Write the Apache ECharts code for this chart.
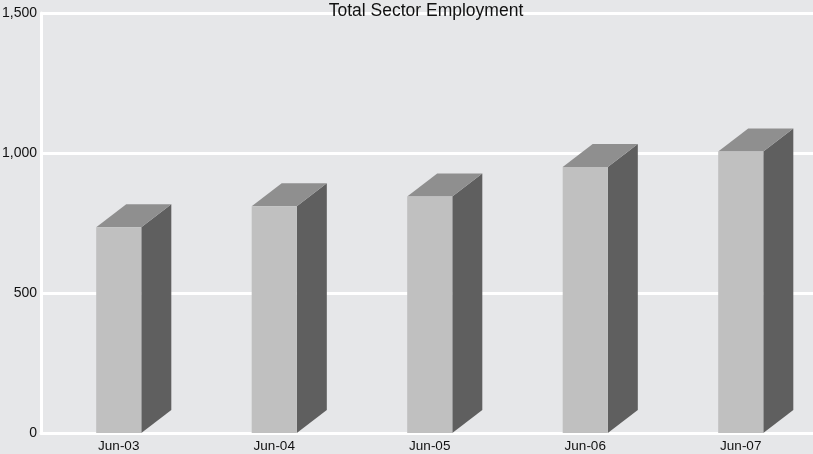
<!DOCTYPE html>
<html>
<head>
<meta charset="utf-8">
<style>
  html, body { margin: 0; padding: 0; background: #e6e7e9; }
  #chart { width: 813px; height: 454px; }
</style>
<script src="https://cdn.jsdelivr.net/npm/echarts@6/dist/echarts.min.js"></script>
</head>
<body>
<div id="chart"></div>
<script>
// Employment at each June, whole sector
const categories = ['Jun-03', 'Jun-04', 'Jun-05', 'Jun-06', 'Jun-07'];
const employment = [735, 810, 845, 950, 1005];
const yTicks = { min: 0, max: 1500, interval: 500 };
const chartTitle = 'Total Sector Employment';

const FONT = '"Liberation Sans", Arial, Helvetica, sans-serif';
const FRONT = '#c0c0c0', SIDE = '#5f5f5f', TOP = '#8f8f8f';

const chart = echarts.init(document.getElementById('chart'));

// Box-style column: front face centred on the category, depth to the upper right
function renderBox(params, api) {
  const idx = api.value(0);
  const top = api.coord([idx, api.value(1)]);
  const base = api.coord([idx, 0]);
  const band = api.size([1, 0])[0];
  const w = band * 0.29;
  const dx = band * 0.193;
  const dy = 23;
  const x0 = top[0] - w / 2, x1 = top[0] + w / 2;
  const yT = top[1], yB = base[1];
  return {
    type: 'group',
    children: [
      { type: 'polygon', shape: { points: [[x1, yB], [x1, yT], [x1 + dx, yT - dy], [x1 + dx, yB - dy]] },
        style: { fill: SIDE } },
      { type: 'polygon', shape: { points: [[x0, yT], [x1, yT], [x1 + dx, yT - dy], [x0 + dx, yT - dy]] },
        style: { fill: TOP } },
      { type: 'rect', shape: { x: x0, y: yT, width: w, height: yB - yT },
        style: { fill: FRONT } }
    ]
  };
}

chart.setOption({
  backgroundColor: '#e6e7e9',
  animation: false,
  title: {
    text: chartTitle,
    left: 421, top: -3, textAlign: 'center',
    textStyle: { fontFamily: FONT, fontSize: 17.5, fontWeight: 'normal', color: '#111' }
  },
  grid: { left: 41, right: -5.5, top: 13, bottom: 21, containLabel: false, outerBoundsMode: 'none' },
  xAxis: {
    type: 'category',
    data: categories,
    axisLine: { lineStyle: { color: '#ffffff', width: 3 } },
    axisTick: { inside: true, length: 7, lineStyle: { color: '#ffffff', width: 3 } },
    axisLabel: { color: '#111', fontFamily: FONT, fontSize: 13.5, margin: 6 },
    z: 1
  },
  yAxis: {
    type: 'value',
    min: yTicks.min, max: yTicks.max, interval: yTicks.interval,
    axisLine: { show: true, lineStyle: { color: '#ffffff', width: 3 } },
    axisTick: { show: false },
    splitLine: { lineStyle: { color: '#ffffff', width: 3 } },
    axisLabel: {
      color: '#111', fontFamily: FONT, fontSize: 14, margin: 4,
      formatter: v => v.toLocaleString('en-US')
    }
  },
  series: [{
    type: 'custom',
    renderItem: renderBox,
    data: employment.map((v, i) => [i, v]),
    encode: { x: 0, y: 1 },
    z: 3
  }]
});
</script>
</body>
</html>
